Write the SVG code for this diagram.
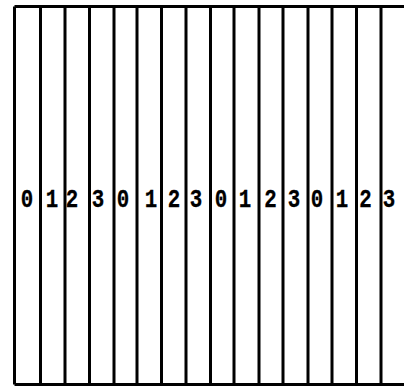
<svg xmlns="http://www.w3.org/2000/svg" width="404" height="387" viewBox="0 0 404 387">
<style>
.ln{stroke:#000;stroke-width:3;fill:none}
.d{font-family:"Liberation Mono","Courier New",monospace;font-size:26px;font-weight:bold;fill:#000;stroke:#000;stroke-width:0.3;text-anchor:middle}
</style>
<rect x="0" y="0" width="404" height="387" fill="#fff"/>
<g id="frame" class="ln">
<path d="M14.5 6.5H404M14.5 384.5H404"/>
<path d="M14.5 6.5V384.5M40.5 6.5V384.5M65 6.5V384.5M89.5 6.5V384.5M114 6.5V384.5M137 6.5V384.5M161.5 6.5V384.5M186 6.5V384.5M210.5 6.5V384.5M234 6.5V384.5M259 6.5V384.5M283 6.5V384.5M308 6.5V384.5M332 6.5V384.5M356.5 6.5V384.5M381 6.5V384.5"/>
</g>
<g id="labels" transform="scale(0.8,1)">
<text class="d" x="33.75" y="207">0</text>
<text class="d" x="65" y="207">1</text>
<text class="d" x="90" y="207">2</text>
<text class="d" x="122.5" y="207">3</text>
<text class="d" x="153.75" y="207">0</text>
<text class="d" x="188.75" y="207">1</text>
<text class="d" x="217.5" y="207">2</text>
<text class="d" x="245" y="207">3</text>
<text class="d" x="276.25" y="207">0</text>
<text class="d" x="306.25" y="207">1</text>
<text class="d" x="338.13" y="207">2</text>
<text class="d" x="367.5" y="207">3</text>
<text class="d" x="396.25" y="207">0</text>
<text class="d" x="427.5" y="207">1</text>
<text class="d" x="456.88" y="207">2</text>
<text class="d" x="486.25" y="207">3</text>
</g>
</svg>
